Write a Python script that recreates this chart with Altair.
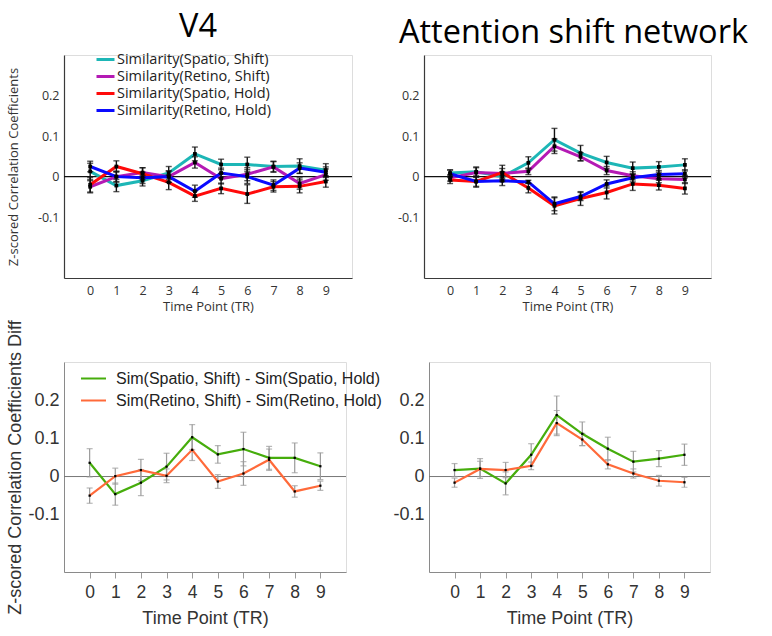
import altair as alt
import pandas as pd

time_points = list(range(10))

# ---- Top row: similarity (Z-scored correlation coefficients) ----
top_series = ["Similarity(Spatio, Shift)", "Similarity(Retino, Shift)",
              "Similarity(Spatio, Hold)", "Similarity(Retino, Hold)"]
top_colors = ["#1DB6B6", "#B41AB4", "#FF0A0A", "#0A0AFF"]

v4_spatio_shift = [0.013, -0.022, -0.010, 0.009, 0.056, 0.030, 0.030, 0.025, 0.026, 0.016]
v4_retino_shift = [-0.025, 0.000, 0.010, 0.000, 0.035, -0.005, 0.006, 0.024, -0.017, 0.005]
v4_spatio_hold = [-0.020, 0.025, 0.007, -0.014, -0.048, -0.029, -0.043, -0.025, -0.024, -0.012]
v4_retino_hold = [0.025, 0.000, -0.003, 0.000, -0.036, 0.009, 0.000, -0.021, 0.021, 0.011]
v4_sem_spatio_shift = [0.020, 0.015, 0.013, 0.016, 0.017, 0.013, 0.018, 0.013, 0.018, 0.016]
v4_sem_retino_shift = [0.015, 0.013, 0.012, 0.014, 0.014, 0.013, 0.016, 0.013, 0.014, 0.014]
v4_sem_spatio_hold = [0.018, 0.014, 0.015, 0.018, 0.013, 0.013, 0.023, 0.013, 0.016, 0.014]
v4_sem_retino_hold = [0.013, 0.013, 0.014, 0.014, 0.015, 0.012, 0.017, 0.013, 0.013, 0.013]

att_spatio_shift = [0.009, 0.012, 0.000, 0.034, 0.091, 0.058, 0.035, 0.021, 0.024, 0.029]
att_retino_shift = [-0.003, 0.010, 0.008, 0.013, 0.075, 0.049, 0.015, 0.002, -0.005, -0.007]
att_spatio_hold = [-0.008, -0.012, 0.010, -0.028, -0.072, -0.054, -0.039, -0.018, -0.021, -0.029]
att_retino_hold = [0.007, -0.012, -0.010, -0.013, -0.067, -0.049, -0.018, -0.003, 0.005, 0.007]
att_sem_spatio_shift = [0.008, 0.012, 0.012, 0.015, 0.028, 0.019, 0.015, 0.015, 0.013, 0.015]
att_sem_retino_shift = [0.008, 0.012, 0.012, 0.008, 0.018, 0.010, 0.010, 0.010, 0.010, 0.010]
att_sem_spatio_hold = [0.009, 0.012, 0.018, 0.012, 0.020, 0.017, 0.016, 0.016, 0.012, 0.014]
att_sem_retino_hold = [0.009, 0.014, 0.012, 0.004, 0.017, 0.010, 0.010, 0.010, 0.010, 0.010]

# ---- Bottom row: differences ----
diff_series = ["Sim(Spatio, Shift) - Sim(Spatio, Hold)",
               "Sim(Retino, Shift) - Sim(Retino, Hold)"]
diff_colors = ["#46AD0C", "#FF6A3A"]

v4_diff_spatio = [0.036, -0.046, -0.016, 0.026, 0.103, 0.058, 0.072, 0.049, 0.049, 0.027]
v4_diff_retino = [-0.050, 0.001, 0.017, 0.002, 0.070, -0.013, 0.008, 0.044, -0.039, -0.024]
v4_diff_sem_spatio = [0.037, 0.029, 0.034, 0.035, 0.033, 0.023, 0.044, 0.030, 0.039, 0.035]
v4_diff_sem_retino = [0.020, 0.021, 0.028, 0.018, 0.028, 0.018, 0.031, 0.028, 0.015, 0.012]

att_diff_spatio = [0.017, 0.021, -0.018, 0.057, 0.161, 0.112, 0.073, 0.039, 0.047, 0.057]
att_diff_retino = [-0.016, 0.020, 0.017, 0.028, 0.140, 0.097, 0.032, 0.008, -0.011, -0.015]
att_diff_sem_spatio = [0.017, 0.026, 0.030, 0.029, 0.050, 0.031, 0.030, 0.027, 0.021, 0.028]
att_diff_sem_retino = [0.012, 0.020, 0.020, 0.010, 0.033, 0.016, 0.012, 0.012, 0.014, 0.013]

y_ticks = [-0.1, 0, 0.1, 0.2]
LABEL_EXPR = ("datum.value == 0 ? '0' : (datum.value < 0 ? '-' + format(-datum.value, '.1f') "
              ": format(datum.value, '.1f'))")


def make_df(names, values, sems):
    rows = []
    for name, vals, ss in zip(names, values, sems):
        for t, v, s in zip(time_points, vals, ss):
            rows.append({"t": t, "v": v, "lo": v - s, "hi": v + s, "series": name})
    return pd.DataFrame(rows)


def panel(df, names, colors, width, height, style, show_legend, ytitle, title=None, tdx=0):
    top = style == "top"
    font = "Open Sans" if top else "Liberation Sans"
    axis_color = "#3a3a3a" if top else "#8a8a8a"
    xscale = alt.Scale(domain=[-1, 10], nice=False, zero=False)
    yscale = alt.Scale(domain=[-0.25, 0.3], nice=False, zero=False)
    xaxis = alt.Axis(values=time_points, tickCount=10, title="Time Point (TR)", grid=False,
                     labelOverlap=False, labelFlush=False, format="d",
                     labelFont=font, titleFont=font,
                     labelFontSize=12.5 if top else 17.5, titleFontSize=13 if top else 18,
                     labelColor="#333", titleColor="#333", titleFontWeight="normal",
                     domainColor=axis_color, domainWidth=1.2 if top else 1,
                     ticks=not top, tickSize=6, tickColor="#9a9a9a",
                     labelPadding=6 if top else 5, titlePadding=4 if top else 9)
    yaxis = alt.Axis(values=y_ticks, labelExpr=LABEL_EXPR, grid=False,
                     title=ytitle if ytitle else None,
                     labelFont=font, titleFont=font,
                     labelOverlap=False, labelFlush=False,
                     labelFontSize=12.5 if top else 18, titleFontSize=13 if top else 18,
                     labelColor="#333", titleColor="#333", titleFontWeight="normal",
                     domainColor=axis_color, domainWidth=1.2 if top else 1,
                     ticks=False, labelPadding=5, titlePadding=17 if top else 3)
    if show_legend:
        if top:
            legend = alt.Legend(title=None, orient="none", legendX=31, legendY=-6,
                                symbolType="stroke", symbolStrokeWidth=3, symbolSize=324,
                                labelFont=font, labelFontSize=14.5, labelColor="#222",
                                rowPadding=0, labelOffset=1, padding=0, labelLimit=400)
        else:
            legend = alt.Legend(title=None, orient="none", legendX=16, legendY=3,
                                symbolType="stroke", symbolStrokeWidth=2, symbolSize=625,
                                labelFont=font, labelFontSize=16, labelColor="#222",
                                rowPadding=0, labelOffset=9, padding=0, labelLimit=500)
    else:
        legend = None
    color = alt.Color("series:N", scale=alt.Scale(domain=names, range=colors),
                      sort=names, legend=legend)

    base = alt.Chart(df)
    x = alt.X("t:Q", scale=xscale, axis=xaxis)
    zero = alt.Chart(pd.DataFrame({"z": [0]})).mark_rule(
        color="#111" if top else "#777", strokeWidth=1.4 if top else 1
    ).encode(y=alt.Y("z:Q", scale=yscale, axis=yaxis))
    line = base.mark_line(strokeWidth=3 if top else 2.2).encode(
        x=x, y=alt.Y("v:Q", scale=yscale, axis=yaxis), color=color)
    ecol = "#111" if top else "#9a9a9a"
    ew = 1.4 if top else 1.2
    err = base.mark_rule(color=ecol, strokeWidth=ew).encode(
        x=x, y=alt.Y("lo:Q", scale=yscale, axis=yaxis), y2="hi:Q")
    cap_lo = base.mark_tick(color=ecol, thickness=ew, size=6, orient="horizontal").encode(
        x=x, y=alt.Y("lo:Q", scale=yscale, axis=yaxis))
    cap_hi = base.mark_tick(color=ecol, thickness=ew, size=6, orient="horizontal").encode(
        x=x, y=alt.Y("hi:Q", scale=yscale, axis=yaxis))
    pts = base.mark_square(color="black", size=14 if top else 5, opacity=1).encode(
        x=x, y=alt.Y("v:Q", scale=yscale, axis=yaxis))
    if top:
        layers = [zero, line, err, cap_lo, cap_hi, pts]
    else:
        layers = [zero, err, cap_lo, cap_hi, line, pts]
    props = dict(width=width, height=height)
    if title:
        props["title"] = alt.Title(title, fontSize=32.5, font="Open Sans",
                                   fontWeight="normal", color="black", anchor="middle",
                                   offset=6, dx=tdx)
    return alt.layer(*layers).properties(**props)


df_v4 = make_df(top_series,
                [v4_spatio_shift, v4_retino_shift, v4_spatio_hold, v4_retino_hold],
                [v4_sem_spatio_shift, v4_sem_retino_shift, v4_sem_spatio_hold, v4_sem_retino_hold])
df_att = make_df(top_series,
                 [att_spatio_shift, att_retino_shift, att_spatio_hold, att_retino_hold],
                 [att_sem_spatio_shift, att_sem_retino_shift, att_sem_spatio_hold, att_sem_retino_hold])
df_v4_diff = make_df(diff_series, [v4_diff_spatio, v4_diff_retino],
                     [v4_diff_sem_spatio, v4_diff_sem_retino])
df_att_diff = make_df(diff_series, [att_diff_spatio, att_diff_retino],
                      [att_diff_sem_spatio, att_diff_sem_retino])

tl = panel(df_v4, top_series, top_colors, 288, 223, "top", True,
           "Z-scored Correlation Coefficients", "V4", tdx=-10)
tr = panel(df_att, top_series, top_colors, 287, 223, "top", False, None,
           "Attention shift network", tdx=6)
bl = panel(df_v4_diff, diff_series, diff_colors, 282, 210, "bottom", True,
           "Z-scored Correlation Coefficients Diff")
br = panel(df_att_diff, diff_series, diff_colors, 281, 210, "bottom", False, None)

top_row = alt.hconcat(tl, tr, spacing=42).resolve_scale(color="independent").resolve_legend(color="independent")
bottom_row = alt.hconcat(bl, br, spacing=9).resolve_scale(color="independent").resolve_legend(color="independent")

chart = alt.concat(top_row, bottom_row, columns=1, align="none", spacing=5).resolve_scale(
    color="independent").resolve_legend(color="independent").properties(
    padding={"left": 6, "top": 10, "right": 5, "bottom": 2}
).configure_view(stroke=None).configure(background="white")

chart.save("out.html", embed_options={"renderer": "svg", "actions": False})
